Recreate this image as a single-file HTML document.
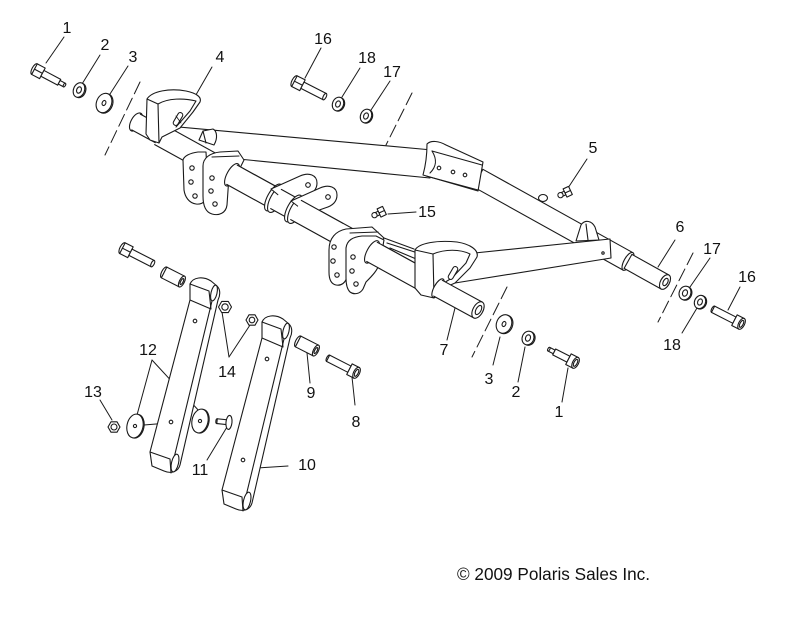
<!DOCTYPE html>
<html><head><meta charset="utf-8"><style>
html,body{margin:0;padding:0;background:#fff;}
svg{display:block;}
text{font-family:"Liberation Sans",sans-serif;fill:#111;stroke:none;}
</style></head><body>
<svg width="800" height="617" viewBox="0 0 800 617" xmlns="http://www.w3.org/2000/svg">
<rect width="800" height="617" fill="#fff"/>
<g fill="#fff" stroke="#1a1a1a" stroke-width="1.1" stroke-linejoin="round" stroke-linecap="round">

<!-- dashed center lines -->
<g fill="none" stroke-dasharray="13 5" stroke-width="1">
<line x1="140" y1="82" x2="105" y2="155"/>
<line x1="412" y1="93" x2="386" y2="145"/>
<line x1="507" y1="287" x2="472" y2="357"/>
<line x1="693" y1="253" x2="658" y2="322"/>
</g>

<!-- leader lines -->
<g fill="none" stroke-width="1">
<line x1="64" y1="37" x2="46" y2="63"/>
<line x1="100" y1="55" x2="82" y2="84"/>
<line x1="128" y1="66" x2="110" y2="94"/>
<line x1="212" y1="67" x2="193" y2="100"/>
<line x1="321" y1="48" x2="305" y2="78"/>
<line x1="360" y1="68" x2="342" y2="97"/>
<line x1="390" y1="81" x2="371" y2="110"/>
<line x1="587" y1="159" x2="568" y2="188"/>
<line x1="416" y1="212" x2="388" y2="214"/>
<line x1="675" y1="240" x2="658" y2="267"/>
<line x1="710" y1="258" x2="690" y2="287"/>
<line x1="740" y1="287" x2="728" y2="310"/>
<line x1="697" y1="308" x2="682" y2="333"/>
<line x1="447" y1="340" x2="455" y2="308"/>
<line x1="500" y1="337" x2="493" y2="365"/>
<line x1="525" y1="347" x2="518" y2="382"/>
<line x1="568" y1="368" x2="562" y2="402"/>
<line x1="152" y1="360" x2="137" y2="415"/>
<line x1="152" y1="360" x2="200" y2="412"/>
<line x1="100" y1="400" x2="112" y2="420"/>
<line x1="229" y1="357" x2="222" y2="312"/>
<line x1="229" y1="357" x2="252" y2="322"/>
<line x1="310" y1="383" x2="307" y2="353"/>
<line x1="355" y1="405" x2="352" y2="377"/>
<line x1="207" y1="460" x2="227" y2="427"/>
<line x1="288" y1="466" x2="257" y2="468"/>
<line x1="144" y1="425" x2="168" y2="423"/>
</g>

<!-- ===== FRAME ===== -->
<!-- upper-left arm -->
<polygon points="168,126 432,150 430,178 168,152"/>

<!-- right tube (saddle to end) -->
<polygon points="482.9,169.3 632.9,252.7 623.1,270.1 473.1,186.7"/>
<ellipse cx="543" cy="198" rx="4.5" ry="3.5"/>
<ellipse cx="628" cy="261.4" rx="4" ry="10" transform="rotate(29 628 261.4)"/>
<polygon points="631.9,254.4 668.9,275 661.1,289 624.1,268.4"/>
<ellipse cx="665" cy="282" rx="4.5" ry="8" transform="rotate(29 665 282)"/>
<ellipse cx="665.5" cy="282" rx="2.2" ry="4" transform="rotate(29 665.5 282)"/>

<!-- saddle with holes -->
<path d="M427,144 C431,140 439,141 446,145 L483,162 L478,191 L423,175 C426,164 427,154 427,144 Z"/>
<path d="M432,151 C437,159 437,166 430,173" fill="none"/>
<line x1="432" y1="151" x2="482" y2="165"/>
<line x1="426" y1="176" x2="478" y2="190"/>
<circle cx="439" cy="168" r="1.8"/><circle cx="453" cy="172" r="1.8"/><circle cx="465" cy="175" r="1.8"/>

<!-- junction gusset -->
<path d="M576,241 L581,225 C585,219 592,221 595,227 L599,240 Z"/>
<line x1="586" y1="224" x2="588" y2="240"/>

<!-- lower arm -->
<polygon points="465,254 610,239 611,258 455,283"/>
<circle cx="603" cy="253" r="1.2"/>

<!-- front cross tube -->
<ellipse cx="136" cy="122" rx="5" ry="10" transform="rotate(28.8 136 122)"/>
<polygon points="140.3,114.1 164.3,127.1 155.7,142.9 131.7,129.9" stroke="none"/>
<line x1="140.3" y1="114.1" x2="164.3" y2="127.1"/>
<line x1="131.7" y1="129.9" x2="155.7" y2="142.9"/>
<polygon points="165.3,125.4 430.3,271.4 419.7,290.6 154.7,144.6" stroke="none"/>
<line x1="160" y1="122.5" x2="430.3" y2="271.4"/>
<line x1="154.7" y1="144.6" x2="419.7" y2="290.6"/>

<!-- small gusset near bracket 4 -->
<path d="M199,140 L203,131 L213,129 C217,131 218,138 214,145 Z"/>
<line x1="203" y1="131" x2="206" y2="143"/>

<!-- bracket 4 -->
<path d="M147,99 C152,91 170,88 186,91 C196,93 202,97 200,102 L193,112 L180,128 L162,137 L159,143 L150,140 L146,134 Z"/>
<path d="M158,104 C168,98 184,98 196,101 L190,111 L176,127" fill="none"/>
<line x1="147" y1="99" x2="158" y2="104"/>
<line x1="158" y1="104" x2="159" y2="143"/>
<rect x="-2.5" y="-7" width="5" height="14" rx="2.5" transform="translate(178,119) rotate(30)"/>
<line x1="176" y1="116" x2="181" y2="123" stroke-width="0.8"/>

<!-- plates A & B -->
<path d="M183,160 C184,156 190,153 198,152 L206,152 L208,190 C208,200 203,205 196,204 C189,203 185,197 184,190 Z"/>
<circle cx="192" cy="168" r="2.2"/><circle cx="191" cy="182" r="2.2"/><circle cx="195" cy="196" r="2.2"/>
<path d="M203,166 C203,158 210,153 220,152 L238,151 L244,160 L240,168 L229,176 L227,205 C226,213 219,216 212,214 C205,212 203,205 203,196 Z"/>
<line x1="212" y1="157" x2="239" y2="156"/>
<circle cx="212" cy="178" r="2.2"/><circle cx="211" cy="191" r="2.2"/><circle cx="215" cy="204" r="2.2"/>

<!-- tube segment after B -->
<ellipse cx="232" cy="174.8" rx="5" ry="12.5" transform="rotate(28.8 232 174.8)"/>
<polygon points="237.3,165.2 285.8,191.9 275.2,211.1 226.7,184.4" stroke="none"/>
<line x1="237.3" y1="165.2" x2="285.8" y2="191.9"/>
<line x1="226.7" y1="184.4" x2="275.2" y2="211.1"/>

<!-- plate C -->
<ellipse cx="273.5" cy="197.5" rx="6" ry="15" transform="rotate(28.8 273.5 197.5)"/>
<ellipse cx="276.5" cy="199" rx="6" ry="15" transform="rotate(28.8 276.5 199)"/>
<path d="M271,189 L300,176 C309,172 317,175 317,183 C317,190 312,194 305,196 L288,203 Z"/>
<circle cx="308" cy="185" r="2.3"/>
<polygon points="281.3,189.4 307.7,204 297.1,223.2 270.7,208.6" stroke="none"/>
<line x1="281.3" y1="189.4" x2="307.7" y2="204"/>
<line x1="270.7" y1="208.6" x2="297.1" y2="223.2"/>

<!-- plate D -->
<ellipse cx="293.5" cy="208.5" rx="6" ry="15" transform="rotate(28.8 293.5 208.5)"/>
<ellipse cx="296.5" cy="210" rx="6" ry="15" transform="rotate(28.8 296.5 210)"/>
<path d="M291,201 L320,188 C329,184 337,187 337,195 C337,202 332,206 325,208 L308,214 Z"/>
<circle cx="328" cy="197" r="2.3"/>
<polygon points="301.3,200.4 342.8,223.3 332.2,242.5 290.7,219.6" stroke="none"/>
<line x1="301.3" y1="200.4" x2="342.8" y2="223.3"/>
<line x1="290.7" y1="219.6" x2="332.2" y2="242.5"/>

<!-- plates E & F -->
<path d="M329,250 C329,238 336,231 346,229 L372,227 L384,238 L378,246 L350,255 L347,276 C346,283 341,286 336,285 C331,284 329,279 329,272 Z"/>
<circle cx="334" cy="247" r="2.2"/><circle cx="333" cy="261" r="2.2"/><circle cx="337" cy="275" r="2.2"/>
<path d="M346,248 C347,240 353,237 362,236 L376,236 L384,240 L380,262 C378,270 372,276 366,282 L363,289 C360,294 354,295 350,292 C347,289 346,284 346,278 Z"/>
<line x1="350" y1="233" x2="378" y2="232"/>
<circle cx="353" cy="257" r="2.2"/><circle cx="352" cy="271" r="2.2"/><circle cx="356" cy="284" r="2.2"/>

<!-- tube segment after F -->
<ellipse cx="372" cy="251.9" rx="5" ry="12.5" transform="rotate(28.8 372 251.9)"/>
<polygon points="377.3,242.3 430.4,271.5 419.8,290.7 366.7,261.5" stroke="none"/>
<line x1="377.3" y1="242.3" x2="430.4" y2="271.5"/>
<line x1="366.7" y1="261.5" x2="419.8" y2="290.7"/>

<!-- struts -->
<line x1="387" y1="243" x2="424" y2="255"/>
<line x1="390" y1="248" x2="421" y2="261"/>
<line x1="384" y1="238" x2="414" y2="249"/>

<!-- right bracket -->
<path d="M415,250 C419,243 437,240 457,242 C470,244 479,250 477,257 L470,268 L455,283 L437,291 L434,298 L421,295 L415,288 Z"/>
<path d="M433,254 C445,249 460,249 470,254 L466,263 L452,278 L437,287" fill="none"/>
<line x1="415" y1="250" x2="433" y2="254"/>
<line x1="433" y1="254" x2="434" y2="297"/>
<rect x="-2.5" y="-7" width="5" height="14" rx="2.5" transform="translate(453,273) rotate(30)"/>

<!-- right stub -->
<ellipse cx="438" cy="288.2" rx="4" ry="10.5" transform="rotate(28.8 438 288.2)"/>
<polygon points="442.3,280.3 482.3,302.1 473.7,317.9 433.7,296.1" stroke="none"/>
<line x1="442.3" y1="280.3" x2="482.3" y2="302.1"/>
<line x1="433.7" y1="296.1" x2="473.7" y2="317.9"/>
<ellipse cx="478" cy="310" rx="5" ry="9" transform="rotate(28.8 478 310)"/>
<ellipse cx="478.5" cy="310" rx="2.5" ry="5" transform="rotate(28.8 478.5 310)"/>

<!-- fittings -->
<g transform="translate(379,213) rotate(-25)">
<rect x="0" y="-4.5" width="6" height="9"/><line x1="0" y1="0" x2="6" y2="0"/>
<rect x="-3" y="-2" width="3" height="4"/><circle cx="-5" cy="0" r="2.6"/>
</g>
<g transform="translate(565,193) rotate(-25)">
<rect x="0" y="-4.5" width="6" height="9"/><line x1="0" y1="0" x2="6" y2="0"/>
<rect x="-3" y="-2" width="3" height="4"/><circle cx="-5" cy="0" r="2.6"/>
</g>

<!-- ===== HARDWARE ===== -->
<!-- bolt 1 top-left -->
<g transform="translate(38,71) rotate(28)">
<ellipse cx="-4" cy="0" rx="2.5" ry="6"/>
<rect x="-4" y="-6" width="9" height="12"/>
<line x1="-4" y1="0" x2="5" y2="0"/>
<rect x="5" y="-3.3" width="19" height="6.6"/>
<rect x="24" y="-2" width="6" height="4"/>
<ellipse cx="30" cy="0" rx="1" ry="2"/>
</g>
<!-- washers top-left -->
<g transform="translate(79,90) rotate(22)"><ellipse cx="1.2" rx="5.5" ry="7.5"/><ellipse rx="5.5" ry="7.5"/><ellipse rx="2.3" ry="3.3"/></g>
<g transform="translate(104,103) rotate(22)"><ellipse cx="1.2" rx="7.5" ry="10"/><ellipse rx="7.5" ry="10"/><ellipse rx="1.8" ry="2.6"/></g>

<!-- bolt 16 top -->
<g transform="translate(298,83) rotate(27)">
<ellipse cx="-4" cy="0" rx="2.5" ry="6"/>
<rect x="-4" y="-6" width="9" height="12"/>
<line x1="-4" y1="0" x2="5" y2="0"/>
<rect x="5" y="-3.5" width="25" height="7"/>
<ellipse cx="30" cy="0" rx="1.5" ry="3.5"/>
</g>
<g transform="translate(338,104) rotate(22)"><ellipse cx="1" rx="5.5" ry="7"/><ellipse rx="5.5" ry="7"/><ellipse rx="2.3" ry="3.2"/></g>
<g transform="translate(366,116) rotate(22)"><ellipse cx="1" rx="5.5" ry="7"/><ellipse rx="5.5" ry="7"/><ellipse rx="2.3" ry="3.2"/></g>

<!-- right side washers and bolts -->
<g transform="translate(504,324) rotate(22)"><ellipse cx="1.2" rx="7.5" ry="9.5"/><ellipse rx="7.5" ry="9.5"/><ellipse rx="1.8" ry="2.6"/></g>
<g transform="translate(528,338) rotate(22)"><ellipse cx="1.2" rx="5.8" ry="7"/><ellipse rx="5.8" ry="7"/><ellipse rx="2.4" ry="3.3"/></g>
<g transform="translate(572,361) rotate(27)">
<rect x="-26" y="-2" width="6" height="4"/>
<ellipse cx="-26" cy="0" rx="1" ry="2"/>
<rect x="-20" y="-3.3" width="16" height="6.6"/>
<rect x="-4" y="-6" width="8" height="12"/>
<ellipse cx="4" cy="0" rx="3" ry="6"/>
<ellipse cx="4" cy="0" rx="1.6" ry="3.8"/>
</g>
<g transform="translate(685,293) rotate(22)"><ellipse cx="1" rx="5.8" ry="7"/><ellipse rx="5.8" ry="7"/><ellipse rx="2.4" ry="3.3"/></g>
<g transform="translate(700,302) rotate(22)"><ellipse cx="1" rx="5.5" ry="6.8"/><ellipse rx="5.5" ry="6.8"/><ellipse rx="2.3" ry="3.2"/></g>
<g transform="translate(738,322) rotate(27)">
<ellipse cx="-28" cy="0" rx="1.5" ry="3.5"/>
<rect x="-28" y="-3.5" width="24" height="7"/>
<rect x="-4" y="-6" width="8" height="12"/>
<ellipse cx="4" cy="0" rx="3" ry="6"/>
<ellipse cx="4" cy="0" rx="1.6" ry="3.8"/>
</g>

<!-- lower-left bolt & bushing -->
<g transform="translate(126,250) rotate(27)">
<ellipse cx="-4" cy="0" rx="2.5" ry="6"/>
<rect x="-4" y="-6" width="9" height="12"/>
<line x1="-4" y1="0" x2="5" y2="0"/>
<rect x="5" y="-3.5" width="25" height="7"/>
<ellipse cx="30" cy="0" rx="1.5" ry="3.5"/>
</g>
<g transform="translate(173,277) rotate(27)">
<ellipse cx="-10" cy="0" rx="2.5" ry="6"/>
<rect x="-10" y="-6" width="20" height="12"/>
<ellipse cx="10" cy="0" rx="2.5" ry="6"/>
<ellipse cx="10" cy="0" rx="1.2" ry="3.3"/>
</g>
<!-- bushing 9 and bolt 8 -->
<g transform="translate(307,346) rotate(27)">
<ellipse cx="-10" cy="0" rx="2.5" ry="6"/>
<rect x="-10" y="-6" width="20" height="12"/>
<ellipse cx="10" cy="0" rx="2.5" ry="6"/>
<ellipse cx="10" cy="0" rx="1.2" ry="3.3"/>
</g>
<g transform="translate(353,371) rotate(27)">
<ellipse cx="-28" cy="0" rx="1.5" ry="3.5"/>
<rect x="-28" y="-3.5" width="24" height="7"/>
<rect x="-4" y="-6" width="8" height="12"/>
<ellipse cx="4" cy="0" rx="3" ry="6"/>
<ellipse cx="4" cy="0" rx="1.6" ry="3.8"/>
</g>

<!-- links -->
<g>
<path d="M190,284 C193,277 203,276 211,281 L217,286 C221,290 220,296 218,300 L180,465 C178,472 171,474 164,471 L152,466 L150,452 L190,300 Z"/>
<path d="M190,284 L209,291 L211,309 L190,300" fill="none"/>
<ellipse cx="214" cy="293" rx="3" ry="8" transform="rotate(13 214 293)"/>
<line x1="212" y1="301" x2="174" y2="458"/>
<path d="M150,452 L170,459 L171,473" fill="none"/>
<ellipse cx="175" cy="463" rx="3.5" ry="9" transform="rotate(13 175 463)"/>
<circle cx="195" cy="321" r="1.8"/><circle cx="171" cy="422" r="1.8"/>
</g>
<g transform="translate(72,38)">
<path d="M190,284 C193,277 203,276 211,281 L217,286 C221,290 220,296 218,300 L180,465 C178,472 171,474 164,471 L152,466 L150,452 L190,300 Z"/>
<path d="M190,284 L209,291 L211,309 L190,300" fill="none"/>
<ellipse cx="214" cy="293" rx="3" ry="8" transform="rotate(13 214 293)"/>
<line x1="212" y1="301" x2="174" y2="458"/>
<path d="M150,452 L170,459 L171,473" fill="none"/>
<ellipse cx="175" cy="463" rx="3.5" ry="9" transform="rotate(13 175 463)"/>
<circle cx="195" cy="321" r="1.8"/><circle cx="171" cy="422" r="1.8"/>
</g>

<!-- nuts -->
<g transform="translate(114,427)"><polygon points="6,0 3,5.2 -3,5.2 -6,0 -3,-5.2 3,-5.2"/><circle r="3"/></g>
<g transform="translate(225,307)"><polygon points="6.5,0 3.25,5.6 -3.25,5.6 -6.5,0 -3.25,-5.6 3.25,-5.6"/><circle r="3.2"/></g>
<g transform="translate(252,320)"><polygon points="6,0 3,5.2 -3,5.2 -6,0 -3,-5.2 3,-5.2"/><circle r="2.8"/></g>

<!-- washers 12 -->
<g transform="translate(135,426) rotate(12)"><ellipse cx="1" rx="8" ry="12"/><ellipse rx="8" ry="12"/><circle r="1.6"/></g>
<g transform="translate(200,421) rotate(12)"><ellipse cx="1" rx="8" ry="12"/><ellipse rx="8" ry="12"/><circle r="1.6"/></g>

<!-- pin 11 -->
<g transform="translate(225,422) rotate(6)">
<ellipse cx="-8" cy="0" rx="1.2" ry="2.4"/>
<rect x="-8" y="-2.4" width="11" height="4.8"/>
<ellipse cx="4" cy="0" rx="3" ry="7"/>
</g>
</g>

<!-- labels -->
<g font-size="16" text-anchor="middle">
<text x="67" y="33">1</text>
<text x="105" y="50">2</text>
<text x="133" y="62">3</text>
<text x="220" y="62">4</text>
<text x="323" y="44">16</text>
<text x="367" y="63">18</text>
<text x="392" y="77">17</text>
<text x="593" y="153">5</text>
<text x="427" y="217">15</text>
<text x="680" y="232">6</text>
<text x="712" y="254">17</text>
<text x="747" y="282">16</text>
<text x="672" y="350">18</text>
<text x="444" y="355">7</text>
<text x="489" y="384">3</text>
<text x="516" y="397">2</text>
<text x="559" y="417">1</text>
<text x="148" y="355">12</text>
<text x="93" y="397">13</text>
<text x="227" y="377">14</text>
<text x="311" y="398">9</text>
<text x="356" y="427">8</text>
<text x="200" y="475">11</text>
<text x="307" y="470">10</text>
</g>
<text x="457" y="580" font-size="17.5" textLength="193" lengthAdjust="spacingAndGlyphs">© 2009 Polaris Sales Inc.</text>
</svg>
</body></html>
